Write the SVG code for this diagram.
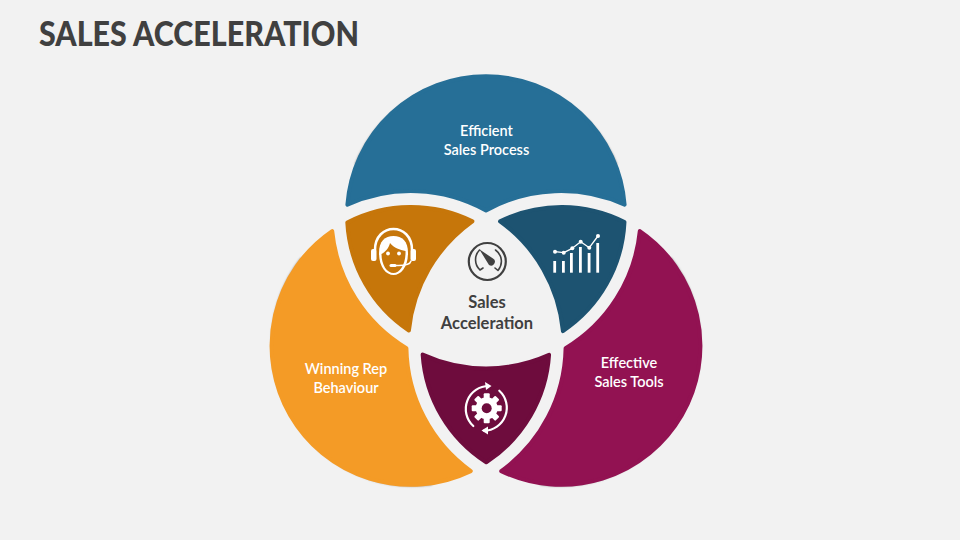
<svg xmlns="http://www.w3.org/2000/svg" width="960" height="540" viewBox="0 0 960 540">
<style>
.lbl{font-family:"Lato","Liberation Sans",sans-serif;font-weight:600;font-size:14.5px;fill:#fff;text-anchor:middle}
.ctr{font-family:"Lato","Liberation Sans",sans-serif;font-weight:700;font-size:16.5px;fill:#404040;text-anchor:middle}
.ic{fill:none;stroke:#fff;stroke-linecap:round;stroke-linejoin:round}
.g{fill:none;stroke:#404040}
</style>
<defs>
<filter id="sh" x="-10%" y="-10%" width="120%" height="120%"><feGaussianBlur stdDeviation="1.3"/></filter>
<path id="rim" fill="none" stroke="#000" stroke-opacity="0.5" stroke-width="2.5" d="M356 165A140.500 140.500 0 0 1 616 165"/>
<path id="lobe" stroke-width="4" stroke-linejoin="round" d="M347.4 204.7A139 139 0 0 1 624.6 204.7A155 155 0 0 0 486 210.4A155 155 0 0 0 347.4 204.7Z"/>
<path id="petal" stroke-width="4" stroke-linejoin="round" d="M347.3 222.5A139 139 0 0 1 472.4 221.3A153 153 0 0 0 408.9 330.6A139 139 0 0 1 347.3 222.5Z"/>
</defs>
<rect width="960" height="540" fill="#f2f2f2"/>
<text x="39" y="46" font-family="Lato,'Liberation Sans',sans-serif" font-weight="900" font-size="35" fill="#404040" textLength="320" lengthAdjust="spacingAndGlyphs">SALES ACCELERATION</text>
<g id="lobe-blue"><use href="#rim" filter="url(#sh)"/><use href="#lobe" fill="#266f97" stroke="#266f97"/></g>
<g id="lobe-magenta"><g transform="rotate(120 486 302.3)"><use href="#rim" filter="url(#sh)"/><use href="#lobe" fill="#921252" stroke="#921252"/></g></g>
<g id="lobe-orange"><g transform="rotate(240 486 302.3)"><use href="#rim" filter="url(#sh)"/><use href="#lobe" fill="#f49b26" stroke="#f49b26"/></g></g>
<g id="label-blue"><text class="lbl" x="486.5" y="136">Efficient</text><text class="lbl" x="486.5" y="155">Sales Process</text></g>
<g id="label-orange"><text class="lbl" x="346" y="374">Winning Rep</text><text class="lbl" x="346" y="393">Behaviour</text></g>
<g id="label-magenta"><text class="lbl" x="629" y="368">Effective</text><text class="lbl" x="629" y="387">Sales Tools</text></g>
<g id="petal-orange"><use href="#petal" fill="#c6760a" stroke="#c6760a"/>
<path class="ic" stroke-width="2.5" d="M375 250C375 222 412 222 412 250"/>
<rect x="371" y="249" width="5.5" height="12" rx="2" fill="#fff"/><rect x="410.5" y="249" width="5.5" height="12" rx="2" fill="#fff"/>
<path fill="#fff" d="M379 253C379 241 385 236 393.5 236C402 236 408 241 408 253C408 267 401 275 393.5 275C386 275 379 267 379 253Z"/>
<path fill="#c6760a" d="M381.500 254C385 252 389 248 390 243C394 248 400 250 405.500 251C406 264 400 273 393.500 273C387 273 381.500 265 381.500 254Z"/>
<circle cx="388" cy="253.500" r="1.900" fill="#fff"/><circle cx="399" cy="253.500" r="1.900" fill="#fff"/>
<path class="ic" stroke-width="1.500" d="M411 261C410 265 405 266 395 265.500"/><path class="ic" stroke-width="3" d="M391 265.500L395 265.500"/></g>
<g id="petal-darkblue"><use href="#petal" fill="#1d5371" stroke="#1d5371" transform="rotate(120 486 302.3)"/>
<g fill="#fff"><rect x="553.300" y="261" width="2.800" height="11.700"/><rect x="562" y="261" width="2.800" height="11.700"/><rect x="570" y="253" width="2.800" height="19.700"/><rect x="579" y="247" width="2.800" height="25.700"/><rect x="587.700" y="253" width="2.800" height="19.700"/><rect x="596.300" y="243" width="2.800" height="29.700"/>
<circle cx="555" cy="251.700" r="2"/><circle cx="563.700" cy="252.700" r="2"/><circle cx="572.300" cy="248.300" r="2"/><circle cx="580.700" cy="241.700" r="2"/><circle cx="589.300" cy="247.700" r="2"/><circle cx="598" cy="236" r="2"/></g>
<polyline class="ic" stroke-width="1.300" points="555,251.700 563.700,252.700 572.300,248.300 580.700,241.700 589.300,247.700 598,236"/></g>
<g id="petal-maroon"><use href="#petal" fill="#6e0c3d" stroke="#6e0c3d" transform="rotate(240 486 302.3)"/>
<g fill="#fff"><circle cx="486.700" cy="408.300" r="11"/>
<g id="teeth"><rect x="483.700" y="393.300" width="6" height="30" rx="1"/><rect x="483.700" y="393.300" width="6" height="30" rx="1" transform="rotate(45 486.700 408.300)"/><rect x="483.700" y="393.300" width="6" height="30" rx="1" transform="rotate(90 486.700 408.300)"/><rect x="483.700" y="393.300" width="6" height="30" rx="1" transform="rotate(135 486.700 408.300)"/></g></g>
<circle cx="486.700" cy="408.300" r="5" fill="#6e0c3d"/>
<path class="ic" stroke-width="2.200" d="M473.300 426A23 23 0 0 1 489 386"/><path class="ic" stroke-width="2.200" d="M499.300 390.700A23 23 0 0 1 484 430.700"/>
<path fill="#fff" d="M491.500 386L485 382L486 390Z"/><path fill="#fff" d="M481.500 430.500L488 426.500L488 434.500Z"/></g>
<g id="center"><circle class="g" stroke-width="2.200" cx="487.300" cy="261.500" r="18.500"/>
<path class="g" stroke-width="1.600" stroke-linecap="round" stroke-linejoin="round" d="M480 270A14 14 0 0 1 479.500 250M495.500 250A14 14 0 0 1 498 270.500M498 270.500L495 268M480 270L483 268"/>
<path fill="#404040" d="M479.300 249.300L493 258.500A3.500 3.500 0 0 1 489 265Z"/>
<text class="ctr" x="487" y="308">Sales</text><text class="ctr" x="487" y="329">Acceleration</text></g>
</svg>
